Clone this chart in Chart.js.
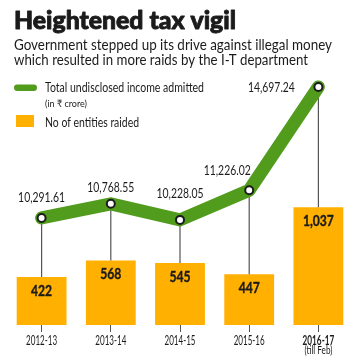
<!DOCTYPE html>
<html>
<head>
<meta charset="utf-8">
<script src="https://cdn.jsdelivr.net/npm/chart.js@4.4.1/dist/chart.umd.min.js"></script>
<style>
body{margin:0;width:362px;height:362px;background:#fff;overflow:hidden}
#wrap{position:absolute;left:0;top:0;width:362px;height:362px}
</style>
</head>
<body>
<div id="wrap"><canvas id="c"></canvas></div>
<script>
// values
const years = ['2012-13', '2013-14', '2014-15', '2015-16', '2016-17'];
const income = [10291.61, 10768.55, 10228.05, 11226.02, 14697.24]; // Rs crore
const raids = [422, 568, 545, 447, 1037];
const lastNote = '(till Feb)';

const title = 'Heightened tax vigil';
const subtitle = ['Government stepped up its drive against illegal money',
                  'which resulted in more raids by the I-T department'];
const legendLine = 'Total undisclosed income admitted';
const legendUnit = '(in ₹ crore)';
const legendBar = 'No of entities raided';

const FONT = "Lato, 'Noto Sans', sans-serif";
const GREEN = '#519c1d';
const ORANGE = '#ffb000';
const INK = '#1b1b1b';

// where each income label sits relative to its point
const labelShift = [[0, -21], [0, -17], [0, -27], [-22, -20], [-47, 0]];

// draw text squeezed to look like the condensed face of the original
function squeeze(ctx, txt, x, y, font, sx, align, stroke) {
    ctx.save();
    ctx.font = font;
    ctx.textAlign = align || 'left';
    ctx.translate(x, y);
    ctx.scale(sx, 1);
    ctx.fillText(txt, 0, 0);
    if (stroke) {
        ctx.strokeStyle = ctx.fillStyle;
        ctx.lineWidth = stroke;
        ctx.lineJoin = 'round';
        ctx.strokeText(txt, 0, 0);
    }
    ctx.restore();
}
function fitScale(ctx, txt, font, width) {
    ctx.save();
    ctx.font = font;
    const w = ctx.measureText(txt).width;
    ctx.restore();
    return width / w;
}

const extras = {
    id: 'extras',
    // grey drop lines from each point down to its bar
    beforeDatasetDraw(chart, args) {
        if (args.index !== 1) return;
        const ctx = chart.ctx;
        const pts = chart.getDatasetMeta(1).data;
        const bars = chart.getDatasetMeta(0).data;
        ctx.save();
        ctx.strokeStyle = '#555';
        ctx.lineWidth = 1.2;
        pts.forEach((p, i) => {
            ctx.beginPath();
            ctx.moveTo(p.x, p.y);
            ctx.lineTo(p.x, bars[i].y);
            ctx.stroke();
        });
        ctx.restore();
    },
    afterDatasetsDraw(chart) {
        const ctx = chart.ctx;
        const pts = chart.getDatasetMeta(1).data;
        const bars = chart.getDatasetMeta(0).data;
        const x = chart.scales.x;
        ctx.save();
        ctx.fillStyle = INK;
        ctx.textBaseline = 'alphabetic';

        // bar values
        let f = 'bold 16px ' + FONT;
        let sx = fitScale(ctx, '1,037', f, 31);
        bars.forEach((b, i) => squeeze(ctx, raids[i].toLocaleString('en-US'), b.x, b.y + 18.5, f, sx, 'center', 0.4));

        // line values
        f = '14px ' + FONT;
        sx = fitScale(ctx, '10,291.61', f, 47);
        pts.forEach((p, i) => {
            const txt = income[i].toLocaleString('en-US', {minimumFractionDigits: 2});
            squeeze(ctx, txt, p.x + labelShift[i][0], p.y + labelShift[i][1] + 5, f, sx, 'center');
        });

        // category labels
        f = '13px ' + FONT;
        sx = fitScale(ctx, '2012-13', f, 31);
        years.forEach((y, i) => {
            const bold = i === years.length - 1;
            squeeze(ctx, y, x.getPixelForTick(i), 345, (bold ? 'bold ' : '') + f, bold ? sx * 1.02 : sx, 'center');
        });
        f = '10.5px ' + FONT;
        squeeze(ctx, lastNote, x.getPixelForTick(4), 354, f, fitScale(ctx, lastNote, f, 28), 'center');

        // heading
        f = '900 25.5px ' + FONT;
        squeeze(ctx, title, 14, 29, f, fitScale(ctx, title, f, 222), 'left', 0.9);
        f = '16px ' + FONT;
        squeeze(ctx, subtitle[0], 14, 50, f, fitScale(ctx, subtitle[0], f, 318));
        squeeze(ctx, subtitle[1], 14, 65, f, fitScale(ctx, subtitle[1], f, 294));

        // legend
        ctx.fillStyle = GREEN;
        ctx.beginPath();
        ctx.roundRect(14, 84.5, 23, 6.5, 3.25);
        ctx.fill();
        ctx.fillStyle = ORANGE;
        ctx.fillRect(16, 115, 18, 12);
        ctx.fillStyle = INK;
        f = '13px ' + FONT;
        squeeze(ctx, legendLine, 45, 92, f, fitScale(ctx, legendLine, f, 159));
        squeeze(ctx, legendBar, 45, 127, f, fitScale(ctx, legendBar, f, 94));
        f = '10px ' + FONT;
        squeeze(ctx, legendUnit, 45, 107, f, fitScale(ctx, legendUnit, f, 42));
        ctx.restore();
    }
};

new Chart(document.getElementById('c'), {
    data: {
        labels: years,
        datasets: [
            {
                type: 'bar',
                label: legendBar,
                data: raids,
                yAxisID: 'y',
                backgroundColor: ORANGE,
                barPercentage: 0.72,
                categoryPercentage: 1,
                order: 2,
            },
            {
                type: 'line',
                label: legendLine,
                data: income,
                yAxisID: 'y1',
                borderColor: GREEN,
                borderWidth: 13,
                borderCapStyle: 'round',
                borderJoinStyle: 'round',
                tension: 0,
                pointRadius: 4,
                pointBackgroundColor: '#fff',
                pointBorderColor: INK,
                pointBorderWidth: 2,
                clip: false,
                order: 1,
            },
        ],
    },
    options: {
        responsive: true,
        maintainAspectRatio: false,
        animation: false,
        layout: {padding: {top: 80, left: 7, right: 9, bottom: 0}},
        plugins: {legend: {display: false}, tooltip: {enabled: false}},
        scales: {
            x: {
                offset: true,
                border: {display: false},
                grid: {drawOnChartArea: false, drawTicks: true, tickLength: 7, color: '#555', offset: false},
                ticks: {color: 'rgba(0,0,0,0)', font: {family: FONT, size: 12}},
                afterFit(scale) { scale.height = 37; },
            },
            y: {display: false, min: 0, max: 2156},
            y1: {display: false, min: 6693, max: 14932},
        },
    },
    plugins: [extras],
});
</script>
</body>
</html>
